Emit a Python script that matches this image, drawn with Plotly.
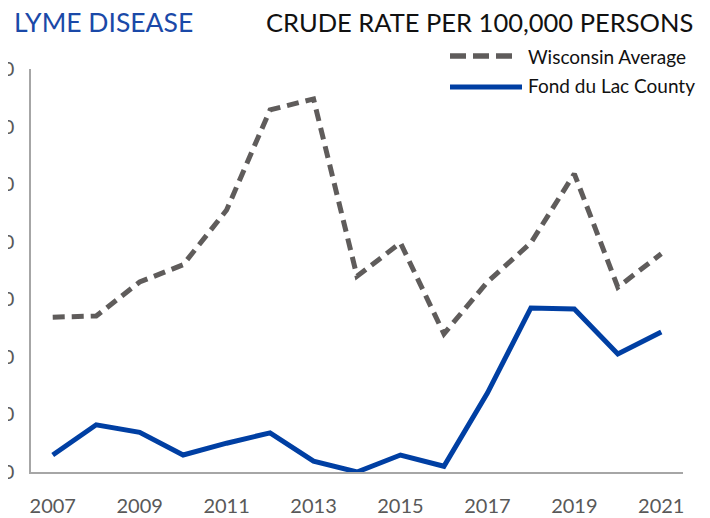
import plotly.graph_objects as go

years = list(range(2007, 2022))
wisconsin_avg = [26.9, 27.1, 33.0, 36.0, 45.5, 62.9, 64.8, 34.0, 39.8, 24.0, 33.0, 39.8, 51.8, 32.1, 37.9]
fond_du_lac = [2.95, 8.2, 6.9, 2.95, 5.0, 6.8, 1.9, 0.0, 2.95, 1.0, 13.7, 28.5, 28.3, 20.5, 24.3]
x_tick_vals = [2007, 2009, 2011, 2013, 2015, 2017, 2019, 2021]
y_tick_vals = [0, 10, 20, 30, 40, 50, 60, 70]

GRAY = "#5f5c5b"
BLUE = "#003fa3"
FONT = "Lato, Open Sans, sans-serif"

fig = go.Figure()
fig.add_trace(go.Scatter(x=years, y=wisconsin_avg, mode="lines", name="Wisconsin Average",
                         line=dict(color=GRAY, width=5, dash="12px,7px"), showlegend=False))
fig.add_trace(go.Scatter(x=years, y=fond_du_lac, mode="lines", name="Fond du Lac County",
                         line=dict(color=BLUE, width=5), showlegend=False))

# the page has an 8px body margin; figure sized so it fills the 710x518 window
OFF = 8
W, H = 710 - OFF, 518 - OFF
L, R, T, B = 31 - OFF, 27, 69 - OFF, 46
pw, ph = W - L - R, H - T - B

def px(x):
    return (x - OFF - L) / pw

def py(y):
    return (H - B - (y - OFF)) / ph

# custom legend
fig.add_shape(type="line", xref="paper", yref="paper", x0=px(450), x1=px(513), y0=py(56), y1=py(56),
              line=dict(color=GRAY, width=5.5, dash="16px,7px"))
fig.add_shape(type="line", xref="paper", yref="paper", x0=px(450), x1=px(522), y0=py(87), y1=py(87),
              line=dict(color=BLUE, width=5))
fig.add_annotation(xref="paper", yref="paper", x=px(526), y=py(56), text="Wisconsin Average",
                   showarrow=False, xanchor="left", yanchor="middle",
                   font=dict(family=FONT, size=19, color="#111111"))
fig.add_annotation(xref="paper", yref="paper", x=px(526), y=py(86), text="Fond du Lac County",
                   showarrow=False, xanchor="left", yanchor="middle",
                   font=dict(family=FONT, size=19, color="#111111"))

# titles
fig.add_annotation(xref="paper", yref="paper", x=px(12), y=py(22), text="LYME DISEASE",
                   showarrow=False, xanchor="left", yanchor="middle",
                   font=dict(family=FONT, size=26.5, color="#1a49a8"))
fig.add_annotation(xref="paper", yref="paper", x=px(695), y=py(22), text="CRUDE RATE PER 100,000 PERSONS",
                   showarrow=False, xanchor="right", yanchor="middle",
                   font=dict(family=FONT, size=25.5, color="#111111"))

fig.update_layout(
    width=W, height=H,
    margin=dict(l=L, r=R, t=T, b=B, pad=0),
    paper_bgcolor="white", plot_bgcolor="white",
    font=dict(family=FONT, color="#595959"),
    xaxis=dict(range=[2006.5, 2021.5], tickvals=x_tick_vals, ticktext=[str(v) for v in x_tick_vals],
               showgrid=False, zeroline=False, showline=True, linecolor="#a6a6a6", linewidth=1.5,
               ticks="", tickfont=dict(size=20, color="#595959"), ticklabelstandoff=15,
               automargin=False),
    yaxis=dict(range=[0, 70], tickvals=y_tick_vals, showgrid=False, zeroline=False,
               showline=True, linecolor="#a6a6a6", linewidth=1.5,
               ticks="", tickfont=dict(size=20, color="#595959"), ticklabelstandoff=11,
               automargin=False),
)

fig.write_html("out.html")
